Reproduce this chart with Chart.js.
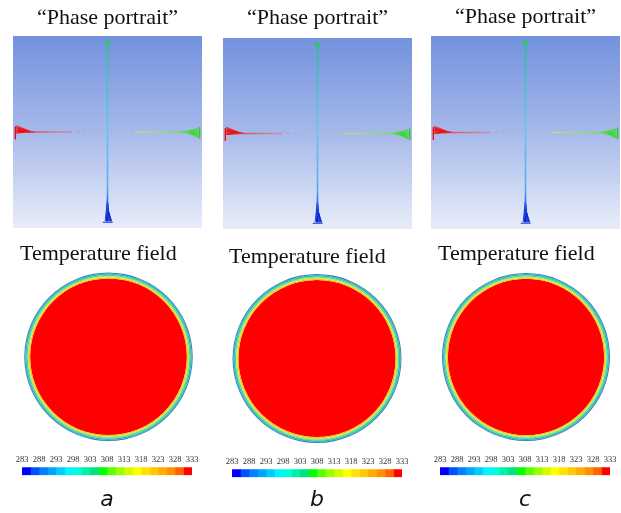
<!DOCTYPE html>
<html>
<head>
<meta charset="utf-8">
<script src="https://cdn.jsdelivr.net/npm/chart.js@4.4.1/dist/chart.umd.min.js"></script>
<style>
  html, body { margin: 0; padding: 0; background: #fff; }
  body { width: 621px; height: 513px; position: relative; overflow: hidden; }
  canvas { position: absolute; }
</style>
</head>
<body>
<canvas id="phaseA" width="189" height="228" style="left:13px;top:0px"></canvas>
<canvas id="phaseB" width="189" height="229" style="left:223px;top:0px"></canvas>
<canvas id="phaseC" width="189" height="229" style="left:431px;top:0px"></canvas>

<canvas id="fieldA" width="177" height="205" style="left:20px;top:236px"></canvas>
<canvas id="fieldB" width="176" height="204" style="left:229px;top:239px"></canvas>
<canvas id="fieldC" width="176" height="205" style="left:438px;top:236px"></canvas>

<canvas id="barA" width="198" height="60" style="left:8px;top:453px"></canvas>
<canvas id="barB" width="198" height="58" style="left:218px;top:455px"></canvas>
<canvas id="barC" width="198" height="60" style="left:426px;top:453px"></canvas>

<script>
// ---- data ----
const panelLetters = ['a', 'b', 'c'];

// phase portrait traces (normalised coords, -1..1 both ways)
const redFan = [
    {x: -0.965, y: 0.065}, {x: -0.80, y: 0.0},
    {x: -0.965, y: 0.05}, {x: -0.84, y: 0.0},
    {x: -0.965, y: 0.035}, {x: -0.78, y: 0.0},
    {x: -0.965, y: 0.02}, {x: -0.86, y: 0.0},
    {x: -0.965, y: 0.005}, {x: -0.82, y: 0.0},
    {x: -0.965, y: -0.01}, {x: -0.88, y: 0.0}
];
const redTick = [{x: -0.975, y: 0.055}, {x: -0.975, y: -0.075}];
const redTrail = [{x: -0.88, y: 0.0}, {x: -0.38, y: 0.0}];
const redDots = [{x: -0.40, y: 0.0}, {x: -0.08, y: 0.0}];

const greenFan = [
    {x: 0.965, y: 0.04}, {x: 0.80, y: 0.0},
    {x: 0.965, y: 0.02}, {x: 0.85, y: 0.0},
    {x: 0.965, y: 0.0}, {x: 0.78, y: 0.0},
    {x: 0.965, y: -0.02}, {x: 0.86, y: 0.0},
    {x: 0.965, y: -0.04}, {x: 0.83, y: 0.0},
    {x: 0.965, y: -0.06}, {x: 0.89, y: 0.0}
];
const greenTick = [{x: 0.975, y: 0.05}, {x: 0.975, y: -0.065}];
const greenTrail = [{x: 0.30, y: 0.0}, {x: 0.88, y: 0.0}];
const greenDots = [{x: 0.06, y: 0.0}, {x: 0.32, y: 0.0}];

const topFan = [
    {x: -0.05, y: 0.95}, {x: 0.0, y: 0.90},
    {x: -0.02, y: 0.955}, {x: 0.0, y: 0.88},
    {x: 0.01, y: 0.955}, {x: 0.0, y: 0.90},
    {x: 0.04, y: 0.95}, {x: 0.0, y: 0.92}
];
const stem = [{x: 0.0, y: 0.95}, {x: 0.0, y: -0.93}];
const blueFan = [
    {x: -0.025, y: -0.93}, {x: -0.002, y: -0.72},
    {x: -0.01, y: -0.93}, {x: 0.0, y: -0.76},
    {x: 0.005, y: -0.93}, {x: 0.002, y: -0.74},
    {x: 0.02, y: -0.93}, {x: 0.0, y: -0.78},
    {x: 0.035, y: -0.93}, {x: 0.003, y: -0.80},
    {x: 0.045, y: -0.93}
];
const blueBase = [{x: -0.05, y: -0.94}, {x: 0.055, y: -0.94}];

// temperature field rings, wall -> core
const ringTemps = [296, 301, 306, 315, 324, 333];

// colour bar
const tempTicks = [283, 288, 293, 298, 303, 308, 313, 318, 323, 328, 333];
const tempLevels = [283, 285.5, 288, 290.5, 293, 295.5, 298, 300.5, 303, 305.5, 308,
    310.5, 313, 315.5, 318, 320.5, 323, 325.5, 328, 330.5, 333];

// ---- styles ----
const levelColors = ['#0000ff', '#0050ff', '#0080ff', '#00a4ff', '#00ccff', '#00f4ff', '#00ffd8', '#00f0a8',
    '#00e27c', '#00ff00', '#5cff00', '#9cff00', '#d0ff00', '#ffff00', '#ffe200', '#ffc800', '#ffae00',
    '#ff9000', '#ff6400', '#ff0000'];
const ringColors = ['#3a84b2', '#2dbcb4', '#45dc9c', '#bdf040', '#ffbe10', '#ff0000'];
const ringWeights = [1.0, 1.3, 1.1, 1.1, 1.2, 76];

const serif = '"Liberation Serif", "Times New Roman", serif';

function xGradient(stops) {
    return (c) => {
        const chart = c.chart;
        if (!chart.chartArea) return stops[0][1];
        const sx = chart.scales.x;
        const g = chart.ctx.createLinearGradient(sx.getPixelForValue(-1), 0, sx.getPixelForValue(1), 0);
        for (const [v, col] of stops) g.addColorStop((v + 1) / 2, col);
        return g;
    };
}

function yGradient(stops) {
    return (c) => {
        const chart = c.chart;
        if (!chart.chartArea) return stops[0][1];
        const sy = chart.scales.y;
        const g = chart.ctx.createLinearGradient(0, sy.getPixelForValue(1), 0, sy.getPixelForValue(-1));
        for (const [v, col] of stops) g.addColorStop((1 - v) / 2, col);
        return g;
    };
}

const phaseBg = {
    id: 'phaseBg',
    beforeDraw(chart) {
        const {ctx, chartArea: a} = chart;
        const g = ctx.createLinearGradient(0, a.top, 0, a.bottom);
        g.addColorStop(0, '#7391de');
        g.addColorStop(0.5, '#a6b9ea');
        g.addColorStop(1, '#e9edf9');
        ctx.save();
        ctx.fillStyle = g;
        ctx.fillRect(a.left, a.top, a.width, a.height);
        ctx.restore();
    }
};

function trace(data, color, width, dash) {
    return {
        data: data,
        showLine: true,
        borderColor: color,
        borderWidth: width,
        borderDash: dash || [],
        pointRadius: 0,
        fill: false
    };
}

function phaseChart(id, pad) {
    new Chart(document.getElementById(id), {
        type: 'scatter',
        data: {
            datasets: [
                trace(stem, yGradient([[0.95, '#28c870'], [0.6, '#3cc4b8'], [0.0, '#5ec8f2'],
                    [-0.6, '#58a8f4'], [-0.72, '#2c64ea'], [-0.93, '#0020d0']]), 1.6),
                trace(redDots, xGradient([[-1, 'rgba(225,70,70,0.8)'], [-0.05, 'rgba(225,150,130,0.45)']]), 1.5, [2, 5]),
                trace(redTrail, xGradient([[-1, 'rgba(225,30,30,0.95)'], [-0.38, 'rgba(225,110,110,0.5)']]), 1.6),
                trace(redFan, 'rgba(240,10,10,0.85)', 1),
                trace(redTick, '#e01010', 1),
                trace(greenDots, xGradient([[0.05, 'rgba(200,215,140,0.5)'], [1, 'rgba(170,230,80,0.85)']]), 1.5, [2, 5]),
                trace(greenTrail, xGradient([[0.3, 'rgba(200,235,100,0.6)'], [1, 'rgba(70,220,60,1)']]), 1.6),
                trace(greenFan, 'rgba(60,215,50,0.85)', 1),
                trace(greenTick, '#30c830', 1),
                trace(topFan, 'rgba(40,200,90,0.8)', 1),
                trace(blueFan, 'rgba(10,40,220,0.9)', 1),
                trace(blueBase, '#1030d0', 1)
            ]
        },
        options: {
            responsive: false,
            animation: false,
            events: [],
            layout: {padding: 0},
            scales: {
                x: {type: 'linear', min: -1, max: 1, display: false},
                y: {type: 'linear', min: -1, max: 1, display: false}
            },
            plugins: {
                legend: {display: false},
                tooltip: {enabled: false},
                title: {
                    display: true,
                    text: '\u201cPhase portrait\u201d',
                    color: '#111',
                    font: {family: serif, size: 22, weight: 'normal', lineHeight: 1.2},
                    padding: pad
                }
            }
        },
        plugins: [phaseBg]
    });
}

function fieldChart(id, pad) {
    new Chart(document.getElementById(id), {
        type: 'doughnut',
        data: {
            labels: ['T'],
            datasets: ringTemps.map((t, i) => ({
                label: t + ' K',
                data: [t],
                backgroundColor: ringColors[i],
                borderWidth: 0,
                weight: ringWeights[i]
            }))
        },
        options: {
            responsive: false,
            animation: false,
            events: [],
            cutout: 0,
            layout: {padding: 0},
            plugins: {
                legend: {display: false},
                tooltip: {enabled: false},
                title: {
                    display: true,
                    text: 'Temperature field',
                    align: 'start',
                    color: '#111',
                    font: {family: serif, size: 22, weight: 'normal', lineHeight: 1.2},
                    padding: pad
                }
            }
        }
    });
}

function colorBar(id, letter, pad) {
    new Chart(document.getElementById(id), {
        type: 'bar',
        data: {
            labels: [''],
            datasets: levelColors.map((c, i) => ({
                data: [[tempLevels[i], tempLevels[i + 1]]],
                backgroundColor: c,
                borderWidth: 0,
                barPercentage: 1,
                categoryPercentage: 1,
                grouped: false
            }))
        },
        options: {
            responsive: false,
            animation: false,
            events: [],
            indexAxis: 'y',
            layout: {padding: {left: 14, right: 14}},
            scales: {
                x: {
                    type: 'linear',
                    position: 'top',
                    min: tempTicks[0],
                    max: tempTicks[tempTicks.length - 1],
                    afterBuildTicks: (s) => { s.ticks = tempTicks.map(v => ({value: v})); },
                    ticks: {
                        color: '#333',
                        font: {family: serif, size: 8.5},
                        padding: 2,
                        maxRotation: 0,
                        autoSkip: false
                    },
                    grid: {display: false, drawTicks: false},
                    border: {display: false}
                },
                y: {display: false}
            },
            plugins: {
                legend: {display: false},
                tooltip: {enabled: false},
                title: {
                    display: true,
                    position: 'bottom',
                    text: letter,
                    color: '#111',
                    font: {family: '"DejaVu Sans", sans-serif', size: 22, style: 'italic', weight: 'normal', lineHeight: 1.2},
                    padding: pad
                }
            }
        }
    });
}

phaseChart('phaseA', {top: 5.3, bottom: 4.3});
phaseChart('phaseB', {top: 5.3, bottom: 6.3});
phaseChart('phaseC', {top: 4.3, bottom: 5.3});

fieldChart('fieldA', {top: 4.8, bottom: 5.3});
fieldChart('fieldB', {top: 4.8, bottom: 3.8});
fieldChart('fieldC', {top: 4.8, bottom: 5.8});

colorBar('barA', panelLetters[0], {top: 11.4, bottom: 0});
colorBar('barB', panelLetters[1], {top: 9.4, bottom: 0});
colorBar('barC', panelLetters[2], {top: 11.4, bottom: 0});
</script>
</body>
</html>
